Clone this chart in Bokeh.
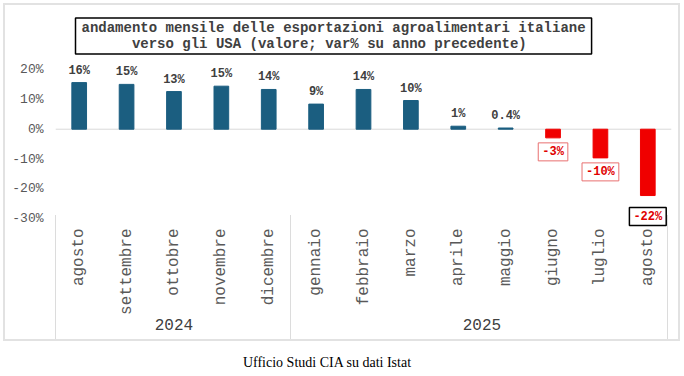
import math
from bokeh.plotting import figure
from bokeh.models import (FactorRange, Range1d, ColumnDataSource, LabelSet, Label, Span,
                          FixedTicker, PrintfTickFormatter, Title, Div)
from bokeh.core.properties import value
from bokeh.layouts import column
from bokeh.embed import file_html
from bokeh.resources import INLINE

# ---- data ----
years = ["2024", "2024", "2024", "2024", "2024",
         "2025", "2025", "2025", "2025", "2025", "2025", "2025", "2025"]
months = ["agosto", "settembre", "ottobre", "novembre", "dicembre",
          "gennaio", "febbraio", "marzo", "aprile", "maggio", "giugno", "luglio", "agosto"]
values = [15.6, 15.0, 12.6, 14.4, 13.3, 8.4, 13.3, 9.6, 1.0, 0.4, -2.9, -9.6, -22.2]
value_labels = ["16%", "15%", "13%", "15%", "14%", "9%", "14%", "10%", "1%", "0.4%",
                "-3%", "-10%", "-22%"]
y_ticks = [-30, -20, -10, 0, 10, 20]
title_line1 = "andamento mensile delle esportazioni agroalimentari italiane"
title_line2 = "verso gli USA (valore; var% su anno precedente)"
caption_text = "Ufficio Studi CIA su dati Istat"

# ---- styles ----
BLUE = "#1B5E80"
RED = "#F00000"
MONO = "Liberation Mono"
W, H = 677, 338            # host size incl. 2px CSS border
CW, CH = W - 4, H - 4      # canvas
MB_L, MB_R, MB_T, MB_B = 50, 11, 52, 116
Y0, Y1 = -32.9, 24

factors = list(zip(years, months))
colors = [BLUE if v >= 0 else RED for v in values]

# light divider lines of the category axis (left edge, between years, right edge)
n = len(years)
cat_w = (CW - MB_L - MB_R) / n
px_per_unit = (CH - MB_T - MB_B) / (Y1 - Y0)
bounds = [0] + [i for i in range(1, n) if years[i] != years[i - 1]] + [n]
line_top = MB_T + (Y1 - y_ticks[0]) * px_per_unit
line_len = CH - line_top
grad = ", ".join(["linear-gradient(#dcdcdc,#dcdcdc)"] * len(bounds))
sizes = ", ".join([f"1px {line_len:.0f}px"] * len(bounds))
positions = ", ".join([f"{MB_L + b * cat_w:.0f}px {line_top:.0f}px" for b in bounds])

fig = figure(width=W, height=H,
             x_range=FactorRange(factors=factors, group_padding=0, factor_padding=0,
                                 subgroup_padding=0),
             y_range=Range1d(Y0, Y1),
             output_backend="svg", toolbar_location=None,
             min_border_left=MB_L, min_border_right=MB_R,
             min_border_top=MB_T, min_border_bottom=MB_B,
             styles={"border": "2px solid #e2e2e2", "margin-left": "3px",
                     "margin-top": "3px", "background-color": "white",
                     "background-image": grad, "background-size": sizes,
                     "background-position": positions, "background-repeat": "no-repeat"})
fig.outline_line_color = None
fig.border_fill_color = None
fig.background_fill_color = None
fig.xgrid.visible = False
fig.ygrid.visible = False

# title box (monospace text, second line centred under the first)
pad = (len(title_line1) - len(title_line2)) // 2
fig.title = Title(text=title_line1 + "\n" + "\u00a0" * pad + title_line2,
                  align="left", offset=20,
                  text_font=MONO, text_font_size="14px", text_font_style="bold",
                  text_color="#404040", border_line_color="black", border_line_width=1.5,
                  background_fill_color="white",
                  padding=dict(left=6, right=6, top=2, bottom=2), standoff=7)

src = ColumnDataSource(dict(x=factors, top=values, color=colors, label=value_labels))
fig.add_layout(Span(location=0, dimension="width", line_color="#d9d9d9",
                    line_width=1, level="underlay"))
fig.vbar(x="x", top="top", bottom=0, width=0.31, color="color", source=src)

pos = [i for i, v in enumerate(values) if v >= 0]
pos_src = ColumnDataSource(dict(x=[factors[i] for i in pos],
                                y=[values[i] for i in pos],
                                t=[value_labels[i] for i in pos]))
fig.add_layout(LabelSet(x="x", y="y", text="t", source=pos_src, y_offset=12,
                        text_align="center", text_baseline="middle",
                        text_font=value(MONO), text_font_size="12px",
                        text_font_style="bold", text_color="#404040"))

neg = [i for i, v in enumerate(values) if v < 0]
for k, i in enumerate(neg):
    last = (k == len(neg) - 1)
    fig.add_layout(Label(x=i + 0.5, y=values[i], text=value_labels[i],
                         y_offset=-21 if last else -14,
                         text_align="center", text_baseline="middle",
                         text_font=MONO, text_font_size="12px", text_font_style="bold",
                         text_color="#E00000", background_fill_color="white",
                         border_line_color="black" if last else "#E87070",
                         border_line_width=1.5 if last else 1,
                         padding=dict(left=4, right=4, top=2, bottom=2)))

# axes
ya = fig.yaxis[0]
ya.ticker = FixedTicker(ticks=y_ticks)
ya.formatter = PrintfTickFormatter(format="%d%%")
ya.axis_line_color = None
ya.major_tick_line_color = None
ya.minor_tick_line_color = None
ya.major_tick_out = 0
ya.minor_tick_out = 0
ya.major_label_standoff = 12
ya.major_label_text_font = MONO
ya.major_label_text_font_size = "13px"
ya.major_label_text_color = "#595959"

xa = fig.xaxis[0]
xa.axis_line_color = None
xa.major_tick_line_color = None
xa.minor_tick_line_color = None
xa.major_tick_out = 0
xa.minor_tick_out = 0
xa.major_label_orientation = math.pi / 2
xa.major_label_standoff = 1
xa.major_label_text_font = MONO
xa.major_label_text_font_size = "16px"
xa.major_label_text_color = "#595959"
xa.group_text_font = MONO
xa.group_text_font_size = "16px"
xa.group_text_font_style = "normal"
xa.group_text_color = "#404040"
xa.separator_line_color = None

cap = Div(text=f'<div style="width:648px;text-align:center;font-family:\'Liberation Serif\';'
               f'font-size:14px;color:#000;padding-top:7px;">{caption_text}</div>',
          width=648, height=30, styles={"margin-left": "3px"})

p = column(fig, cap)

open("out.html", "w").write(file_html(p, INLINE))
